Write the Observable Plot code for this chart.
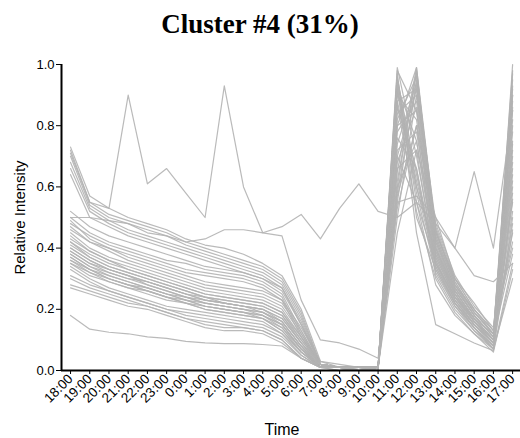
<!DOCTYPE html>
<html>
<head>
<meta charset="utf-8">
<script src="https://cdn.jsdelivr.net/npm/d3@7"></script>
<script src="https://cdn.jsdelivr.net/npm/@observablehq/plot@0.6"></script>
<style>
  html, body { margin: 0; padding: 0; background: #fff; }
  #title { width: 520px; height: 52px; line-height: 49px; text-align: center; font-family: "Liberation Serif", "Times New Roman", serif; font-weight: bold; font-size: 27px; color: #000; }
</style>
</head>
<body>
<div id="title">Cluster #4 (31%)</div>
<div id="chart"></div>
<script>
const times = ["18:00","19:00","20:00","21:00","22:00","23:00","0:00","1:00","2:00","3:00","4:00","5:00","6:00","7:00","8:00","9:00","10:00","11:00","12:00","13:00","14:00","15:00","16:00","17:00"];
const yTicks = [0, 0.2, 0.4, 0.6, 0.8, 1.0];

// upper bundle (start ~0.7)
const upperSeries = [
  [0.73,0.57,0.53,0.50,0.48,0.46,0.43,0.41,0.40,0.38,0.35,0.31,0.20,0.03,0.02,0.01,0.01,0.95,0.55,0.35,0.24,0.17,0.12,0.98],
  [0.71,0.55,0.51,0.49,0.47,0.45,0.42,0.40,0.38,0.36,0.34,0.30,0.19,0.02,0.01,0.01,0.01,0.60,0.98,0.45,0.30,0.20,0.13,0.70],
  [0.70,0.54,0.50,0.48,0.45,0.44,0.41,0.39,0.37,0.35,0.33,0.29,0.18,0.02,0.01,0.01,0.01,0.88,0.60,0.38,0.25,0.16,0.10,0.90],
  [0.68,0.53,0.49,0.46,0.44,0.42,0.40,0.38,0.36,0.34,0.32,0.28,0.17,0.02,0.01,0.01,0.01,0.70,0.92,0.42,0.27,0.18,0.11,0.55],
  [0.66,0.52,0.48,0.45,0.43,0.41,0.39,0.37,0.35,0.33,0.31,0.27,0.16,0.02,0.01,0.01,0.01,0.97,0.50,0.33,0.22,0.15,0.09,0.80],
  [0.64,0.50,0.47,0.44,0.42,0.40,0.38,0.36,0.34,0.32,0.30,0.26,0.15,0.02,0.01,0.01,0.01,0.55,0.95,0.48,0.31,0.21,0.14,0.40]
];

// upper-middle lines (start ~0.5)
const middleSeries = [
  [0.52,0.47,0.44,0.42,0.40,0.38,0.36,0.34,0.33,0.32,0.30,0.27,0.15,0.02,0.01,0.01,0.01,0.80,0.85,0.40,0.26,0.17,0.10,0.62],
  [0.50,0.45,0.42,0.40,0.38,0.36,0.35,0.33,0.32,0.31,0.29,0.25,0.13,0.02,0.01,0.01,0.01,0.92,0.62,0.37,0.24,0.16,0.09,0.88],
  [0.48,0.44,0.41,0.39,0.37,0.35,0.33,0.32,0.31,0.30,0.28,0.24,0.12,0.02,0.01,0.01,0.01,0.58,0.93,0.43,0.27,0.18,0.11,0.52],
  [0.46,0.42,0.40,0.38,0.36,0.34,0.32,0.31,0.30,0.29,0.27,0.23,0.11,0.02,0.01,0.01,0.01,0.72,0.78,0.39,0.25,0.17,0.10,0.75]
];

// dense main band
const bandSeries = [
  [0.45,0.40,0.37,0.35,0.33,0.31,0.29,0.27,0.26,0.25,0.24,0.21,0.12,0.02,0.01,0.01,0.01,0.99,0.70,0.36,0.23,0.15,0.09,1.00],
  [0.44,0.39,0.36,0.34,0.32,0.30,0.28,0.26,0.25,0.24,0.23,0.20,0.11,0.02,0.01,0.01,0.01,0.65,0.99,0.46,0.29,0.19,0.12,0.45],
  [0.43,0.39,0.36,0.33,0.31,0.29,0.27,0.25,0.24,0.23,0.22,0.19,0.11,0.02,0.01,0.00,0.01,0.90,0.82,0.40,0.25,0.16,0.09,0.93],
  [0.42,0.38,0.35,0.33,0.31,0.29,0.27,0.25,0.24,0.23,0.22,0.19,0.10,0.02,0.01,0.01,0.00,0.82,0.96,0.44,0.28,0.18,0.11,0.66],
  [0.42,0.37,0.34,0.32,0.30,0.28,0.26,0.24,0.23,0.22,0.21,0.18,0.10,0.02,0.01,0.01,0.01,0.96,0.60,0.34,0.22,0.14,0.08,0.58],
  [0.41,0.37,0.34,0.32,0.30,0.28,0.26,0.24,0.23,0.22,0.21,0.18,0.09,0.02,0.01,0.00,0.01,0.50,0.90,0.47,0.30,0.20,0.12,0.82],
  [0.40,0.36,0.33,0.31,0.29,0.27,0.25,0.23,0.22,0.21,0.20,0.17,0.09,0.01,0.01,0.01,0.01,0.93,0.75,0.38,0.24,0.15,0.08,0.97],
  [0.40,0.36,0.33,0.31,0.29,0.27,0.25,0.24,0.22,0.21,0.20,0.17,0.09,0.02,0.01,0.01,0.00,0.78,0.88,0.41,0.26,0.17,0.10,0.48],
  [0.39,0.35,0.32,0.30,0.29,0.27,0.25,0.23,0.22,0.21,0.20,0.16,0.08,0.01,0.01,0.00,0.01,0.86,0.66,0.35,0.23,0.15,0.09,0.72],
  [0.39,0.35,0.33,0.31,0.28,0.26,0.24,0.23,0.22,0.21,0.19,0.16,0.08,0.02,0.01,0.01,0.01,0.62,0.97,0.45,0.29,0.19,0.12,0.92],
  [0.38,0.34,0.32,0.30,0.28,0.26,0.24,0.22,0.21,0.20,0.19,0.16,0.08,0.01,0.01,0.01,0.00,0.98,0.85,0.37,0.24,0.16,0.10,0.64],
  [0.38,0.34,0.31,0.29,0.27,0.25,0.24,0.22,0.21,0.20,0.19,0.15,0.07,0.01,0.00,0.01,0.01,0.74,0.94,0.43,0.27,0.18,0.11,0.38],
  [0.37,0.33,0.31,0.29,0.27,0.25,0.23,0.22,0.21,0.20,0.18,0.15,0.07,0.02,0.01,0.01,0.01,0.91,0.58,0.32,0.21,0.14,0.08,0.86],
  [0.37,0.33,0.30,0.28,0.27,0.25,0.23,0.21,0.20,0.19,0.18,0.15,0.07,0.01,0.01,0.00,0.01,0.68,0.86,0.42,0.26,0.17,0.10,0.56],
  [0.36,0.33,0.30,0.28,0.26,0.24,0.23,0.21,0.20,0.19,0.18,0.14,0.07,0.01,0.01,0.01,0.00,0.88,0.92,0.39,0.25,0.16,0.09,0.78],
  [0.36,0.32,0.30,0.28,0.26,0.24,0.22,0.21,0.20,0.19,0.17,0.14,0.06,0.01,0.01,0.01,0.01,0.57,0.80,0.46,0.28,0.19,0.12,0.95],
  [0.35,0.32,0.29,0.27,0.26,0.24,0.22,0.20,0.19,0.18,0.17,0.13,0.06,0.02,0.01,0.01,0.01,0.95,0.64,0.34,0.22,0.14,0.07,0.50],
  [0.35,0.31,0.29,0.27,0.25,0.23,0.22,0.20,0.19,0.18,0.17,0.13,0.06,0.01,0.01,0.00,0.01,0.80,0.99,0.40,0.26,0.17,0.10,0.68],
  [0.47,0.42,0.39,0.36,0.34,0.32,0.30,0.28,0.27,0.26,0.25,0.22,0.13,0.02,0.01,0.01,0.01,0.66,0.72,0.50,0.30,0.22,0.13,0.42],
  [0.49,0.43,0.40,0.37,0.35,0.33,0.31,0.29,0.28,0.27,0.26,0.23,0.14,0.03,0.01,0.01,0.01,0.84,0.90,0.44,0.28,0.20,0.13,0.85]
];

// lower spread lines
const lowerSeries = [
  [0.34,0.30,0.27,0.25,0.23,0.21,0.20,0.19,0.18,0.17,0.16,0.12,0.06,0.01,0.01,0.01,0.01,0.94,0.45,0.15,0.12,0.09,0.065,0.35],
  [0.33,0.29,0.26,0.24,0.22,0.20,0.19,0.18,0.17,0.16,0.15,0.12,0.05,0.01,0.01,0.00,0.01,0.53,0.80,0.35,0.22,0.14,0.07,0.60],
  [0.31,0.28,0.26,0.24,0.22,0.20,0.18,0.17,0.16,0.15,0.14,0.11,0.05,0.01,0.01,0.01,0.01,0.76,0.66,0.31,0.20,0.13,0.07,0.46],
  [0.30,0.27,0.25,0.23,0.21,0.19,0.17,0.16,0.15,0.14,0.13,0.10,0.04,0.01,0.00,0.01,0.01,0.45,0.72,0.33,0.21,0.13,0.08,0.90],
  [0.28,0.26,0.24,0.22,0.21,0.19,0.17,0.15,0.14,0.14,0.13,0.10,0.04,0.01,0.01,0.01,0.00,0.87,0.52,0.30,0.19,0.12,0.06,0.33],
  [0.27,0.25,0.23,0.21,0.20,0.18,0.16,0.14,0.13,0.13,0.12,0.09,0.04,0.01,0.01,0.00,0.01,0.60,0.75,0.36,0.23,0.15,0.09,0.74]
];

// individual lines
const lowestLine = [0.18,0.135,0.125,0.12,0.11,0.105,0.095,0.09,0.088,0.088,0.085,0.08,0.04,0.01,0.01,0.01,0.01,0.70,0.55,0.28,0.18,0.12,0.07,0.30];
const flatLine   = [0.50,0.50,0.49,0.48,0.46,0.44,0.42,0.43,0.46,0.46,0.45,0.44,0.23,0.10,0.09,0.07,0.04,0.55,0.57,0.50,0.40,0.31,0.29,0.35];
const spikyLine  = [0.72,0.55,0.53,0.90,0.61,0.66,0.58,0.50,0.93,0.60,0.45,0.47,0.51,0.43,0.53,0.61,0.52,0.50,0.55,0.48,0.40,0.65,0.40,0.85];

const allSeries = [...upperSeries, ...middleSeries, ...bandSeries, ...lowerSeries, lowestLine, flatLine, spikyLine];
const rows = allSeries.flatMap((s, id) => s.map((v, t) => ({id, t, v})));

const xMin = -0.47, xMax = 23.41;

const chart = Plot.plot({
  width: 520,
  height: 386,
  marginTop: 12,
  marginBottom: 68,
  marginLeft: 61,
  marginRight: 0,
  style: {fontFamily: "'Liberation Sans', Arial, sans-serif", fontSize: "13px", color: "#000", background: "#fff"},
  x: {type: "linear", domain: [xMin, xMax]},
  y: {domain: [0, 1]},
  marks: [
    Plot.line(rows, {x: "t", y: "v", z: "id", stroke: "#b2b2b2", strokeWidth: 1.2, strokeOpacity: 0.9}),
    Plot.ruleY([0], {stroke: "#000", strokeWidth: 2}),
    Plot.ruleX([xMin], {stroke: "#000", strokeWidth: 2}),
    Plot.axisY(yTicks, {tickSize: 5, tickPadding: 2, tickFormat: d => d.toFixed(1), label: null, fontSize: 13}),
    Plot.axisX(times.map((_, i) => i), {tickSize: 4, tickPadding: 2, tickRotate: -45, tickFormat: i => times[i], label: null, fontSize: 13.5}),
    Plot.text(["Relative Intensity"], {text: d => d, frameAnchor: "left", textAnchor: "middle", lineAnchor: "middle", rotate: -90, dx: -41, fontSize: 15}),
    Plot.text(["Time"], {text: d => d, frameAnchor: "bottom", textAnchor: "middle", lineAnchor: "middle", dx: -9, dy: 59, fontSize: 16})
  ]
});
document.getElementById("chart").appendChild(chart);
</script>
</body>
</html>
